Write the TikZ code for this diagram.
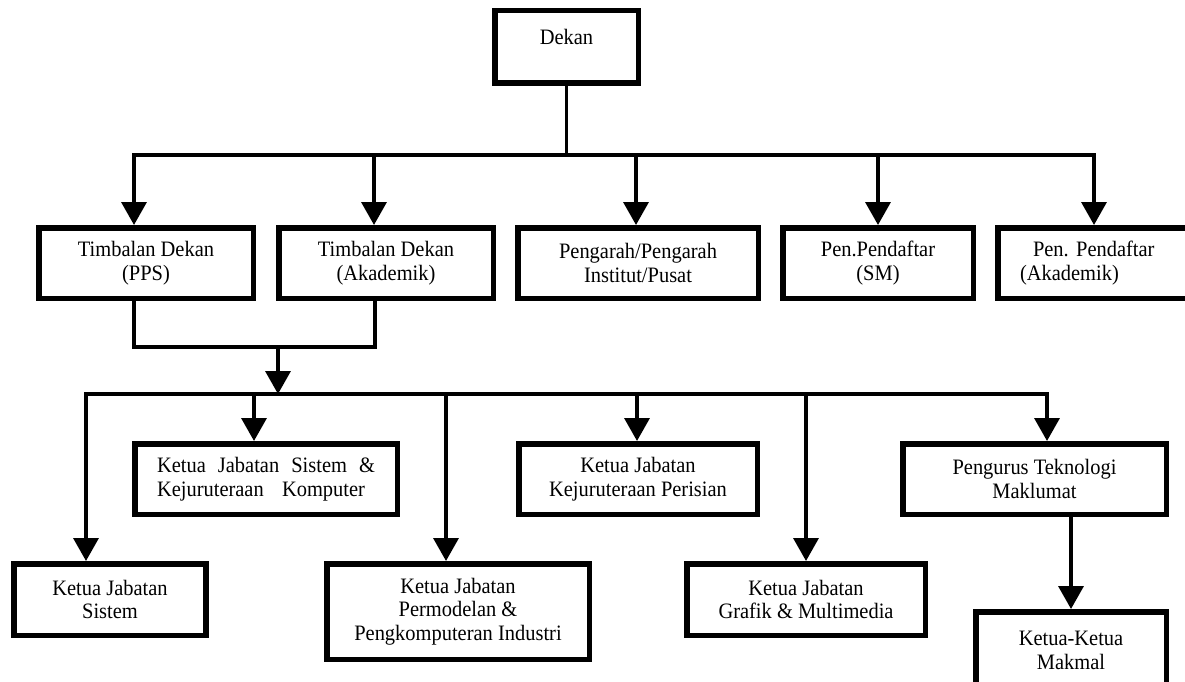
\documentclass[tikz,border=0pt]{standalone}
\usepackage{fontspec}
\setmainfont[FakeStretch=0.93]{Liberation Serif}
\usetikzlibrary{arrows.meta}
\begin{document}
\begin{tikzpicture}[x=1pt,y=-1pt,
  box/.style={draw, line width=5.5pt, inner sep=0pt, align=center,
    font=\fontsize{22}{23.5}\selectfont},
  conn/.style={line width=3.5pt, line cap=rect},
  arr/.style={line width=3.5pt, -{Triangle[width=25pt,length=23pt]}}]
\useasboundingbox (0,0) rectangle (1185,682);
\fill[white] (0,0) rectangle (1185,682);
\clip (0,0) rectangle (1185,682);

% boxes
\node[box, minimum width=143.5pt, minimum height=72.5pt] (dekan) at (566.5,47) {\raisebox{20pt}{Dekan}};

\node[box, minimum width=214.5pt, minimum height=70.5pt] (pps) at (146,263) {Timbalan Dekan\\(PPS)};
\node[box, minimum width=214.5pt, minimum height=70.5pt] (akad) at (386,263) {Timbalan Dekan\\(Akademik)};
\node[box, minimum width=240.5pt, minimum height=70.5pt] (peng) at (638,263) {Pengarah/Pengarah\\Institut/Pusat};
\node[box, minimum width=190.5pt, minimum height=70.5pt] (sm) at (878,263) {Pen.Pendaftar\\(SM)};
\node[box, anchor=west, text width=180pt, inner xsep=22.25pt, align=left, minimum height=70.5pt] (penak) at (995,263) {\hspace*{13pt}Pen.\ Pendaftar\\(Akademik)};

\node[box, align=left, minimum width=262.5pt, minimum height=70.5pt] (sk) at (266,479) {\makebox[218pt][s]{Ketua Jabatan Sistem \&}\\\makebox[208pt][s]{Kejuruteraan Komputer}};
\node[box, minimum width=238.5pt, minimum height=70.5pt] (per) at (638,479) {Ketua Jabatan\\Kejuruteraan Perisian};
\node[box, minimum width=263.5pt, minimum height=70.5pt] (ptm) at (1034.5,479) {Pengurus Teknologi\\Maklumat};

\node[box, minimum width=192pt, minimum height=71.5pt] (sis) at (110,599.5) {Ketua Jabatan\\Sistem};
\node[box, minimum width=262.5pt, minimum height=95.5pt] (pmd) at (458,611.5) {Ketua Jabatan\\Permodelan \&\\Pengkomputeran Industri};
\node[box, minimum width=238.5pt, minimum height=71.5pt] (gm) at (806,599.5) {Ketua Jabatan\\Grafik \& Multimedia};
\node[box, minimum width=190.5pt, minimum height=77.5pt] (mk) at (1071,650.5) {Ketua-Ketua\\Makmal};

% first bus
\coordinate (b1) at (134,155);
\coordinate (b2) at (374,155);
\coordinate (b3) at (636,155);
\coordinate (b4) at (878,155);
\coordinate (b5) at (1094,155);
\draw[conn] (dekan.south) -- (dekan.south |- b1);
\draw[conn] (b1) -- (b5);
\foreach \c/\n in {b1/pps,b2/akad,b3/peng,b4/sm,b5/penak}
  \draw[arr] (\c) -- (\c |- \n.north);

% merge of the two Timbalan
\coordinate (m1) at (134,347);
\coordinate (m2) at (375,347);
\coordinate (m3) at (278,347);
\draw[conn] (m1 |- pps.south) -- (m1) -- (m2) -- (m2 |- akad.south);

% second bus
\coordinate (c1) at (86,394);
\coordinate (c2) at (254,394);
\coordinate (c3) at (446,394);
\coordinate (c4) at (637,394);
\coordinate (c5) at (806,394);
\coordinate (c6) at (1047,394);
\draw[arr] (m3) -- (m3 |- c1);
\draw[conn] (c1) -- (c6);
\foreach \c/\n in {c1/sis,c2/sk,c3/pmd,c4/per,c5/gm,c6/ptm}
  \draw[arr] (\c) -- (\c |- \n.north);

\draw[arr] (ptm.south -| mk.north) -- (mk.north);
\end{tikzpicture}
\end{document}
